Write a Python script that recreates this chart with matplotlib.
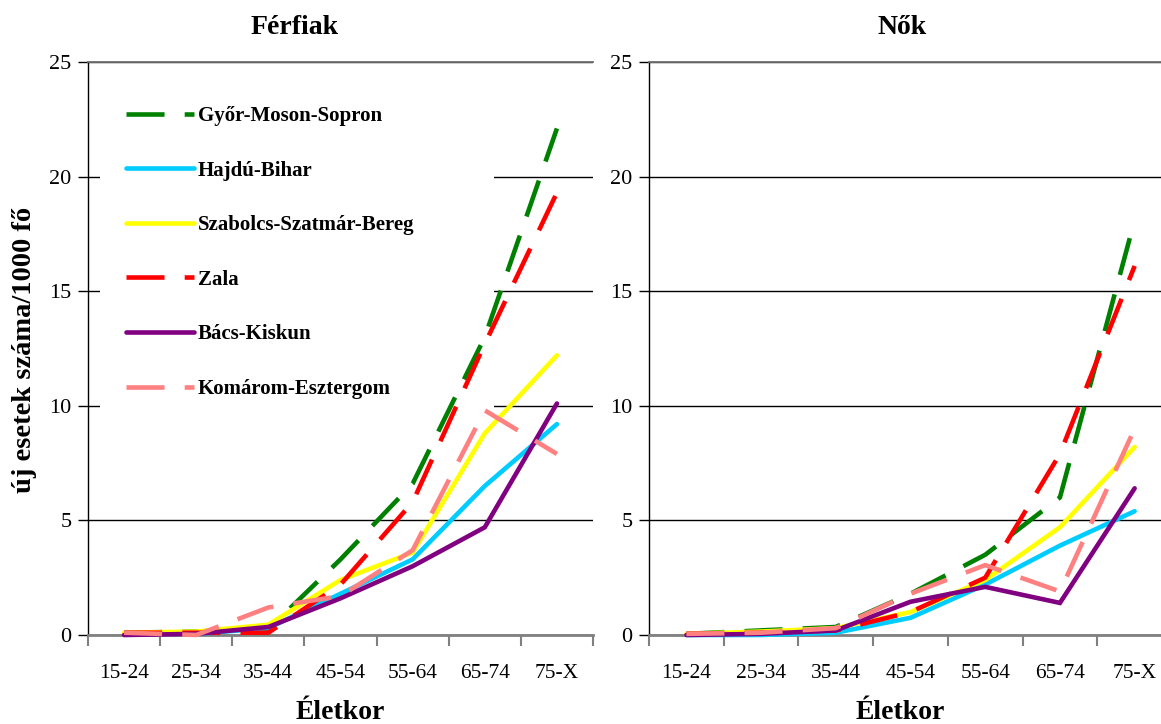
import numpy as np
import matplotlib
matplotlib.use("Agg")
import matplotlib.pyplot as plt
from matplotlib.patches import Rectangle

plt.rcParams['font.family'] = ['Liberation Serif', 'DejaVu Serif']

ages = ['15-24', '25-34', '35-44', '45-54', '55-64', '65-74', '75-X']
megyek = ['Győr-Moson-Sopron', 'Hajdú-Bihar', 'Szabolcs-Szatmár-Bereg',
          'Zala', 'Bács-Kiskun', 'Komárom-Esztergom']

# ferfiak
f_gyor = [0.1, 0.15, 0.25, 3.3, 6.6, 13.0, 22.1]
f_hajdu = [0.05, 0.05, 0.3, 1.8, 3.3, 6.5, 9.2]
f_szabolcs = [0.1, 0.15, 0.45, 2.4, 3.6, 8.8, 12.2]
f_zala = [0.1, 0.1, 0.1, 2.2, 5.8, 12.7, 19.3]
f_bacs = [0.0, 0.05, 0.35, 1.6, 3.0, 4.7, 10.1]
f_komarom = [0.1, 0.0, 1.2, 1.7, 3.7, 9.8, 7.9]

# nok
n_gyor = [0.05, 0.2, 0.35, 1.8, 3.5, 6.0, 18.1]
n_hajdu = [0.0, 0.0, 0.1, 0.75, 2.2, 3.9, 5.4]
n_szabolcs = [0.05, 0.15, 0.3, 1.0, 2.4, 4.7, 8.2]
n_zala = [0.05, 0.1, 0.2, 1.0, 2.5, 7.9, 16.1]
n_bacs = [0.0, 0.05, 0.2, 1.45, 2.1, 1.4, 6.4]
n_komarom = [0.05, 0.1, 0.3, 1.8, 3.05, 1.9, 9.0]

colors = ['#008000', '#00CCFF', '#FFFF00', '#FF0000', '#800080', '#FF8080']
dashed = [True, False, False, True, False, True]

W, H = 1161, 724
fig = plt.figure(figsize=(W / 100, H / 100), dpi=100)

def px_axes(x0, x1, y0, y1):
    return fig.add_axes([x0 / W, 1 - y1 / H, (x1 - x0) / W, (y1 - y0) / H])

ax1 = px_axes(88, 593, 62, 635)
ax2 = px_axes(649, 1172, 62, 635)

x = np.arange(len(ages))
lw = 3.3

def draw(ax, series):
    ax.set_axisbelow(True)
    for i, vals in enumerate(series):
        kw = dict(color=colors[i], lw=lw, label=megyek[i], zorder=3 + i, clip_on=False)
        if dashed[i]:
            ax.plot(x, vals, dashes=(8.3, 4.4), dash_capstyle='butt', **kw)
        else:
            ax.plot(x, vals, solid_capstyle='round', solid_joinstyle='miter', **kw)
    ax.set_xlim(-0.5, 6.5)
    ax.set_ylim(0, 25)
    ax.set_yticks([0, 5, 10, 15, 20, 25])
    ax.yaxis.grid(True, color='black', lw=1.0)
    ax.set_xticks(np.arange(-0.5, 7, 1))
    ax.set_xticklabels([])
    ax.set_xticks(x, minor=True)
    ax.set_xticklabels(ages, minor=True)
    ax.tick_params(axis='x', which='major', length=8, width=1.5, color='#808080', direction='out')
    ax.tick_params(axis='x', which='minor', length=0, pad=21, labelsize=15.5)
    ax.tick_params(axis='y', length=7, width=1, color='black', labelsize=16, pad=5)
    ax.spines['right'].set_visible(False)
    ax.spines['top'].set_color('#707070')
    ax.spines['top'].set_linewidth(1.3)
    ax.spines['bottom'].set_color('#808080')
    ax.spines['bottom'].set_linewidth(2)
    ax.spines['left'].set_color('black')
    ax.spines['left'].set_linewidth(1)
    ax.set_xlabel('Életkor', fontsize=20, fontweight='bold')

draw(ax1, [f_gyor, f_hajdu, f_szabolcs, f_zala, f_bacs, f_komarom])
draw(ax2, [n_gyor, n_hajdu, n_szabolcs, n_zala, n_bacs, n_komarom])

ax1.xaxis.set_label_coords(0.5, -0.113)
ax2.xaxis.set_label_coords((900 - 649) / 523, -0.113)

ax1.set_ylabel('új esetek száma/1000 fő', fontsize=20.5, fontweight='bold')
ax1.yaxis.set_label_coords((37 - 88) / 505, 0.497)

# white box behind the legend hides the gridlines
ax1.add_patch(Rectangle((0.024, 0.389), 0.78, 0.594, transform=ax1.transAxes,
                        facecolor='white', edgecolor='none', zorder=1))

ax1.legend(loc='upper left', bbox_to_anchor=((126 - 88) / 505, (635 - 106) / 573),
           frameon=False, prop={'weight': 'bold', 'size': 15},
           handlelength=3.25, handletextpad=0.2, labelspacing=1.66,
           borderpad=0, borderaxespad=0)

fig.text(295 / W, 1 - 28 / H, 'Férfiak', fontsize=20, fontweight='bold', ha='center', va='center')
fig.text(902 / W, 1 - 28 / H, 'Nők', fontsize=20, fontweight='bold', ha='center', va='center')

fig.savefig('out.png', dpi=100)
